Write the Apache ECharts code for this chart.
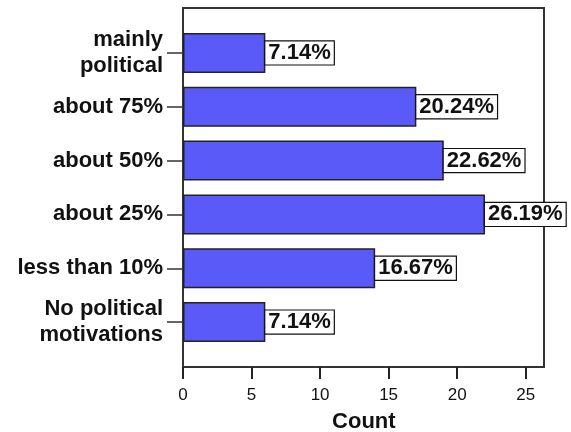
<!DOCTYPE html>
<html>
<head>
<meta charset="utf-8">
<script src="https://cdn.jsdelivr.net/npm/echarts@6/dist/echarts.min.js"></script>
<style>html,body{margin:0;padding:0;background:#fff;}#c{width:571px;height:432px;}</style>
</head>
<body>
<div id="c"></div>
<script>
// bottom to top
const categories = ['No political\nmotivations', 'less than 10%', 'about 25%', 'about 50%', 'about 75%', 'mainly\npolitical'];
const counts = [6, 14, 22, 19, 17, 6];
const xTickMax = 25;
const xTickStep = 5;

const total = counts.reduce((a, b) => a + b, 0);
const font = 'Liberation Sans, Arial';

const chart = echarts.init(document.getElementById('c'));
chart.setOption({
  animation: false,
  grid: [
    { left: 183, right: 27, top: 8, bottom: 65, outerBoundsMode: 'none', containLabel: false, show: true, borderColor: '#333', borderWidth: 2, backgroundColor: 'transparent' },
    { left: 183, right: 27, top: 26, bottom: 83, outerBoundsMode: 'none', containLabel: false },
    { left: 183, right: 45.3, top: 8, bottom: 65, outerBoundsMode: 'none', containLabel: false }
  ],
  xAxis: [{
    gridIndex: 0, type: 'value', min: 0, max: 26.3, show: false
  }, {
    gridIndex: 1, type: 'value', min: 0, max: 26.3, show: false
  }, {
    gridIndex: 2, type: 'value', min: 0, max: xTickMax, interval: xTickStep, position: 'bottom',
    name: 'Count', nameLocation: 'middle', nameGap: 44,
    nameTextStyle: { fontFamily: font, fontWeight: 'bold', fontSize: 22, color: '#111', padding: [0, 0, 0, 19] },
    axisLine: { show: false, onZero: false },
    axisTick: { show: true, inside: false, length: 12, lineStyle: { color: '#222', width: 2 } },
    axisLabel: { fontFamily: font, fontSize: 17, color: '#111', margin: 20 },
    splitLine: { show: false }
  }],
  yAxis: [{
    gridIndex: 0, type: 'value', show: false
  }, {
    gridIndex: 1, type: 'category', data: categories,
    axisLine: { show: false },
    axisTick: { show: true, alignWithLabel: true, length: 16, lineStyle: { color: '#333', width: 1.5 } },
    axisLabel: {
      fontFamily: font, fontWeight: 'bold', fontSize: 22, lineHeight: 26, color: '#111', margin: 20, align: 'right'
    },
    splitLine: { show: false }
  }, {
    gridIndex: 2, type: 'value', show: false
  }],
  series: [{
    type: 'bar',
    xAxisIndex: 1, yAxisIndex: 1,
    data: counts,
    barWidth: 40,
    itemStyle: { color: '#5a5af8', borderColor: '#222', borderWidth: 1.5 },
    label: {
      show: true, position: 'right', distance: 0,
      formatter: p => (counts[p.dataIndex] / total * 100).toFixed(2) + '%',
      fontFamily: font, fontWeight: 'bold', fontSize: 22, lineHeight: 22, color: '#111',
      backgroundColor: '#fff', borderColor: '#111', borderWidth: 1.2, padding: [1, 3, 0, 3]
    }
  }]
});
</script>
</body>
</html>
